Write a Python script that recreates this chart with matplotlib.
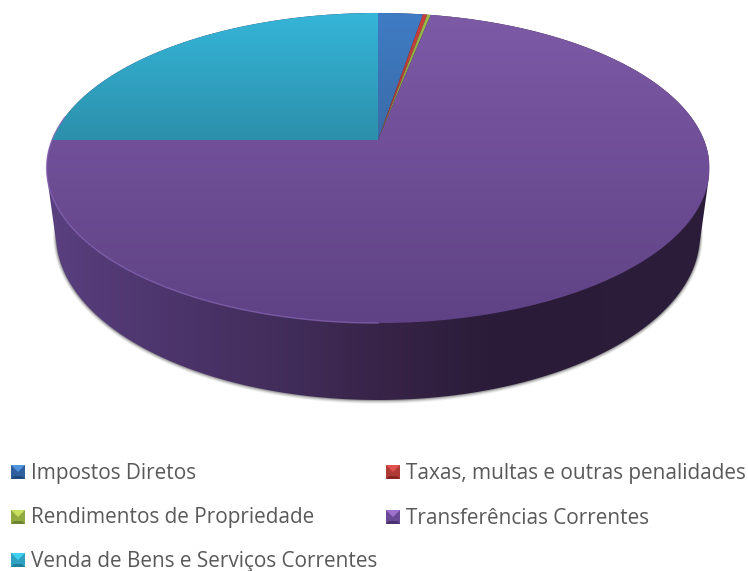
import numpy as np
import matplotlib
matplotlib.use("Agg")
import matplotlib.pyplot as plt
from matplotlib.patches import Polygon
from matplotlib.colors import LinearSegmentedColormap as LSC

categories = ["Impostos Diretos", "Taxas, multas e outras penalidades",
              "Rendimentos de Propriedade", "Transferências Correntes",
              "Venda de Bens e Serviços Correntes"]
values = [2.6, 0.25, 0.2, 71.95, 25.0]
top_colors = [("#3f7cc4", "#3a6ba8"), ("#c9403c", "#a83632"), ("#9bbb4a", "#7f9a3c"),
              ("#7d5aa6", "#5f4285"), ("#35b5d8", "#2c90ab")]
legend_colors = [("#4f94dc", "#2f5f9c", "#1f4a80"), ("#e0504c", "#b03a36", "#8a2522"),
                 ("#c8e060", "#90aa40", "#6e8630"), ("#a070d0", "#6a4a96", "#4a3270"),
                 ("#40d0f0", "#2ea0c0", "#1f7f9c")]
side_stops = [(0.0, "#5a4080"), (0.14, "#4f3770"), (0.38, "#402c58"), (0.5, "#382448"),
              (0.68, "#2a1c38"), (1.0, "#2c1e3a")]

plt.rcParams['font.family'] = ['Open Sans', 'DejaVu Sans']
fig = plt.figure(figsize=(7.48, 5.71), dpi=100)
ax = fig.add_axes([0, 0, 1, 1])
ax.set_xlim(0, 748)
ax.set_ylim(571, 0)
ax.axis("off")

CX, Y0, A, B, K = 378, 140, 326, 150, 0.1807

def ell(t):
    u, v = np.sin(t), np.cos(t)
    d = 1 + K * v
    return np.column_stack([CX + A * u / d, Y0 - B * v / d])

def ell_bottom(t, w=0.0):
    return np.column_stack([CX + (322 + w) * np.sin(t), 235 + w * 0.25 - (165 + w) * np.cos(t)])

def hull(pts):
    pts = sorted(map(tuple, pts))
    def half(seq):
        h = []
        for p in seq:
            while len(h) >= 2 and (h[-1][0]-h[-2][0])*(p[1]-h[-2][1]) - (h[-1][1]-h[-2][1])*(p[0]-h[-2][0]) <= 0:
                h.pop()
            h.append(p)
        return h[:-1]
    return np.array(half(pts) + half(pts[::-1]))

def grad(poly, colors, horizontal=False, extent=(0, 748, 0, 571), z=2):
    cmap = LSC.from_list("g", colors)
    arr = np.linspace(0, 1, 256)
    arr = arr[None, :] if horizontal else arr[:, None]
    im = ax.imshow(arr, cmap=cmap, extent=(extent[0], extent[1], extent[3], extent[2]),
                   origin="upper", aspect="auto", zorder=z, interpolation="bilinear")
    patch = Polygon(poly, closed=True, transform=ax.transData, fc="none", ec="none")
    ax.add_patch(patch)
    im.set_clip_path(patch)
    return im

T = np.linspace(0, 2 * np.pi, 721)
top = ell(T)
bot = ell_bottom(T)

# thin soft shadow round the base
for w, alpha in zip([3.0, 2.2, 1.4, 0.7], [0.06, 0.09, 0.13, 0.18]):
    ax.add_patch(Polygon(ell_bottom(T, w), closed=True, fc="black", ec="none", alpha=alpha, zorder=1))

# side wall
body = hull(np.vstack([top, bot]))
grad(body, side_stops, horizontal=True, extent=(47, 709, 0, 571), z=2)

# top face
frac = np.cumsum([0] + values) / sum(values)
for i, (f0, f1) in enumerate(zip(frac[:-1], frac[1:])):
    t = np.linspace(f0, f1, max(3, int((f1 - f0) * 720))) * 2 * np.pi
    poly = np.vstack([[[CX, Y0]], ell(t)])
    bottom_y = 323 if i == 3 else 140
    grad(poly, top_colors[i], extent=(0, 748, 13, bottom_y), z=3 + i * 0.01)

rim_t = np.linspace(np.pi, 1.55 * np.pi, 200)
rim = ell(rim_t)
ax.plot(rim[:, 0], rim[:, 1], color="#8a68b8", lw=1.0, alpha=0.7, zorder=4)

# legend
rows = [(11, 472), (386, 472), (11, 517), (386, 517), (11, 560)]
for name, (x, y), (lt, mid, dk) in zip(categories, rows, legend_colors):
    s, h = 14, 7
    c = (x + h, y)
    ax.add_patch(Polygon([(x, y-h), (x+s, y-h), (x+s, y+h), (x, y+h)], fc=mid, ec="none", zorder=5))
    ax.add_patch(Polygon([(x, y-h), (x+s, y-h), c], fc=lt, ec="none", zorder=6))
    ax.add_patch(Polygon([(x, y+h), (x+s, y+h), (x+s-3, y+h-3), (x+3, y+h-3)], fc=dk, ec="none", zorder=6))
    ax.text(x + 20, y + 1.0, name, fontsize=14.96, color="#595959", va="center", ha="left", zorder=7)

fig.savefig("out.png", dpi=100, facecolor="white")
